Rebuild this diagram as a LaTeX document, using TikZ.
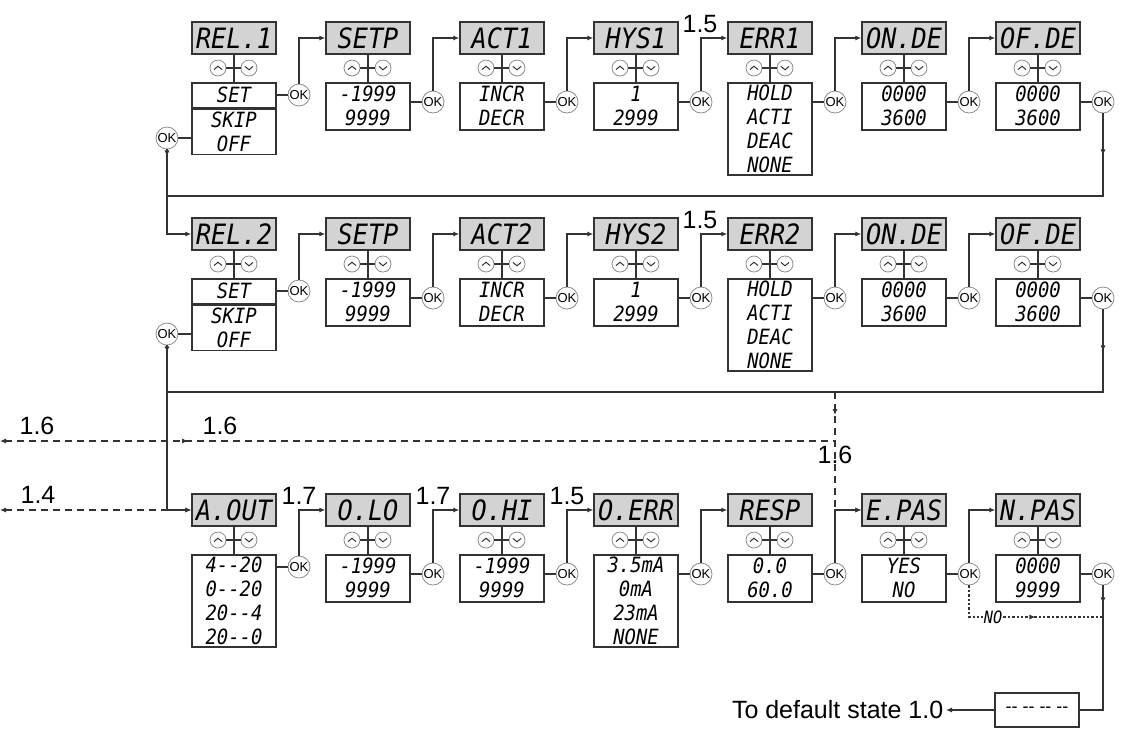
\documentclass[tikz,border=0pt]{standalone}
\usepackage{fontspec}
\setmainfont{Liberation Sans}
\newfontfamily\segfont{DejaVu Sans Mono}[FakeStretch=0.9]
\usetikzlibrary{arrows.meta,decorations.markings}
\definecolor{wire}{HTML}{333333}
\definecolor{lcd}{HTML}{D3D3D3}
\definecolor{knob}{HTML}{8C8C8C}

\begin{document}
\begin{tikzpicture}[x=0.5pt,y=-0.5pt,color=wire,line width=0.75pt,
  >={Latex[length=3pt,width=2.6pt]},
  hdr/.style={draw,fill=lcd,text=black,minimum width=42pt,minimum height=16pt,inner sep=0pt,
    font=\segfont\itshape\fontsize{14}{14}\selectfont},
  sel/.style={draw,anchor=north,text=black,minimum width=42pt,minimum height=#1,inner sep=1pt,
    align=center,font=\segfont\itshape\fontsize{10.5}{12}\selectfont},
  knob/.style={circle,draw=knob,line width=0.4pt,minimum size=8pt,inner sep=0pt},
  keyup/.style={knob,path picture={\draw[line width=0.5pt,wire]
    ([xshift=-2pt,yshift=-0.8pt]path picture bounding box.center) -- ++(2pt,1.7pt) -- ++(2pt,-1.7pt);}},
  keydn/.style={knob,path picture={\draw[line width=0.5pt,wire]
    ([xshift=-2pt,yshift=0.8pt]path picture bounding box.center) -- ++(2pt,-1.7pt) -- ++(2pt,1.7pt);}},
  okb/.style={circle,draw=knob,line width=0.4pt,minimum size=11pt,inner sep=0pt,text=black,
    font=\fontsize{6.5}{6.5}\selectfont},
  num/.style={inner sep=0pt,text=black,font=\fontsize{12.5}{12.5}\selectfont},
  skipline/.style={dash pattern=on 3.5pt off 2.5pt},
  noline/.style={dash pattern=on 1.2pt off 1pt,line width=0.9pt},
  tipat/.style={postaction={decorate},decoration={markings,mark=at position #1 with {\arrow{>}}}}]
  \useasboundingbox (0,0) rectangle (1124,730);

  % relay 1 and relay 2
  \foreach \r/\hy in {1/38,2/234}{
    \node[hdr] (h\r1) at (234,\hy) {REL.\r};
    \node[sel=12.5pt] (b\r1) at (234,\hy+44) {SET};
    \node[sel=22.5pt] (k\r) at (b\r1.south) {SKIP\\OFF};
    \node[okb] (okl\r) at (167,\hy+100) {OK};
    \draw (okl\r) -- (okl\r -| k\r.west);
    \foreach \c/\hd/\vals/\bh in {2/SETP/{-1999\\9999}/23.5pt, 3/ACT\r/{INCR\\DECR}/23.5pt,
        4/HYS\r/{1\\2999}/23.5pt, 5/ERR\r/{HOLD\\ACTI\\DEAC\\NONE}/46pt,
        6/ON.DE/{0000\\3600}/23.5pt, 7/OF.DE/{0000\\3600}/23.5pt}{
      \pgfmathsetmacro\x{234+134*(\c-1)}
      \node[hdr] (h\r\c) at (\x,\hy) {\hd};
      \node[sel=\bh] (b\r\c) at (\x,\hy+44) {\vals};
    }
  }

  % analog output
  \foreach \c/\hd/\vals/\bh in {1/A.OUT/{4-{}-20\\0-{}-20\\20-{}-4\\20-{}-0}/46pt,
      2/O.LO/{-1999\\9999}/23.5pt, 3/O.HI/{-1999\\9999}/23.5pt,
      4/O.ERR/{3.5mA\\0mA\\23mA\\NONE}/46pt, 5/RESP/{0.0\\60.0}/23.5pt,
      6/E.PAS/{YES\\NO}/23.5pt, 7/N.PAS/{0000\\9999}/23.5pt}{
    \pgfmathsetmacro\x{234+134*(\c-1)}
    \node[hdr] (h3\c) at (\x,510) {\hd};
    \node[sel=\bh] (b3\c) at (\x,554) {\vals};
  }

  % keys, OK buttons and the step arrows
  \foreach \r/\hy in {1/38,2/234,3/510}{
    \foreach \c [evaluate=\c as \d using int(\c+1)] in {1,...,7}{
      \pgfmathsetmacro\x{234+134*(\c-1)}
      \pgfmathsetmacro\oy{\c==1 ? 57 : 64}
      \node[keyup] (u\r\c) at (\x-16,\hy+30) {};
      \node[keydn] (d\r\c) at (\x+15,\hy+30) {};
      \node[okb] (ok\r\c) at (\x+65,\hy+\oy) {OK};
      \draw (h\r\c) -- (b\r\c);
      \draw (u\r\c) -- (d\r\c);
      \draw (ok\r\c) -- (ok\r\c -| b\r\c.east);
      \ifnum\c<7 \draw[->] (ok\r\c) |- (h\r\d); \fi
    }
  }

  \coordinate (j1) at (167,196);
  \coordinate (j2) at (167,392);
  \draw[tipat=21pt] (ok17) |- (j1);
  \draw[->,tipat=3.5pt] (okl1) |- (h21);
  \draw[tipat=21pt] (ok27) |- (j2);
  \draw[->,tipat=3.5pt] (okl2) |- (h31);

  % jumps from other menus
  \coordinate (d1) at (ok35 |- j2);
  \coordinate (e16) at (0,441);
  \coordinate (e14) at (0,510);
  \draw[skipline,->,tipat=11.5pt] (d1) |- (h36);
  \draw[skipline,<-,tipat=94pt] (e16) -- (e16 -| d1);
  \draw[skipline,<->] (e14) -- (h31);

  \node[num] (l15a) at (700,24) {1.5};
  \node[num] (l15b) at (700,220) {1.5};
  \node[num] (l17a) at (299,496) {1.7};
  \node[num] (l17b) at (433,496) {1.7};
  \node[num] (l15c) at (567,496) {1.5};
  \node[num] (l16a) at (37,426) {1.6};
  \node[num] (l16b) at (220,426) {1.6};
  \node[num] (l16c) at (835,455) {1.6};
  \node[num] (l14) at (38,495) {1.4};

  % password NO branch and exit
  \coordinate (nj) at (ok37 |- 0,617);
  \draw[noline,tipat=49pt] (ok36) |- (nj);
  \node[fill=white,inner sep=0.3pt,text=black,font=\segfont\itshape\fontsize{8.5}{8.5}\selectfont]
    (nolbl) at (993,617) {NO};
  \node[draw,text=black,minimum width=42pt,minimum height=17pt,inner sep=0pt,
    font=\fontsize{9}{9}\selectfont] (dflt) at (1037,710) {-{}- -{}- -{}- -{}-};
  \node[num,anchor=east,inner sep=1pt] (home) at (946,710) {To default state 1.0};
  \draw[tipat=9pt] (ok37) |- (dflt);
  \draw[->] (dflt) -- (home);
\end{tikzpicture}
\end{document}
